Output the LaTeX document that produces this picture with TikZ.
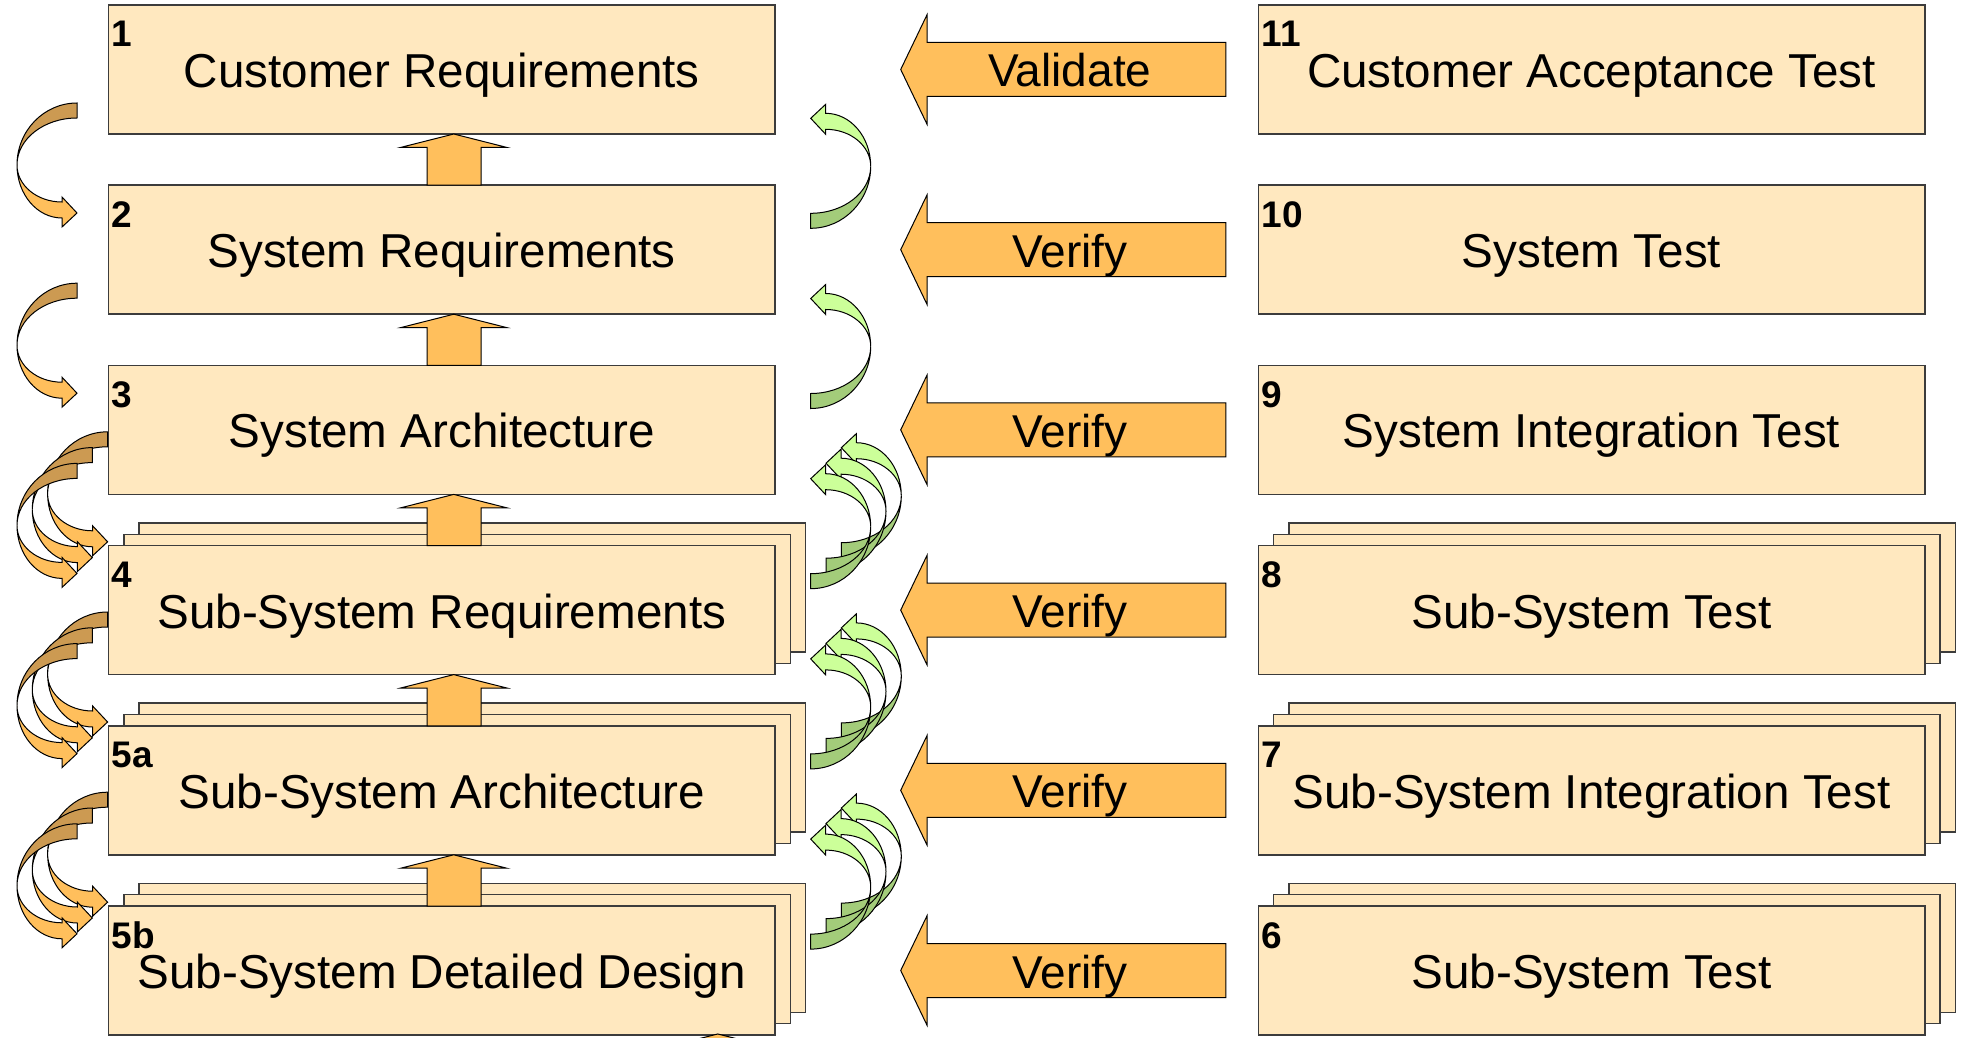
\documentclass[tikz,border=0pt]{standalone}
\usepackage{fontspec}
\setmainfont{Liberation Sans}
\usetikzlibrary{calc}

\definecolor{boxfill}{HTML}{FFE8BF}
\definecolor{boxline}{HTML}{3C3C3C}
\definecolor{orangefill}{HTML}{FFBF5C}
\definecolor{orangedark}{HTML}{CC9A52}
\definecolor{greenlight}{HTML}{CCFF99}
\definecolor{greendark}{HTML}{A3CC7A}

\tikzset{
  % twisted ribbon arrow: tail band (#1) then head band (#2); origin = top of the tail end
  pics/bentarrow/.style 2 args={code={
    \draw[line width=0.5pt, fill=#1]
      (0,0) .. controls (-33.1,0) and (-60,27.8) .. (-60,62)
            .. controls (-60,36) and (-33.1,15) .. (0,15) -- cycle;
    \draw[line width=0.5pt, fill=#2]
      (-60,62) .. controls (-60,91.3) and (-39.9,115) .. (-15,115)
      -- (-15,124) -- (0,110) -- (-15,94) -- (-15,99)
      .. controls (-39.9,99) and (-60,82.4) .. (-60,62) -- cycle;
  }}
}

\begin{document}
\begin{tikzpicture}[x=0.5pt,y=-0.5pt,
  box/.style={draw=boxline, line width=0.75pt, fill=boxfill,
    minimum width=333.25pt, minimum height=64.5pt, inner sep=0pt, outer sep=0pt},
  boxback/.style={draw=boxline, line width=0.75pt, fill=boxfill},
  blk/.style={draw=black, line width=0.5pt, fill=orangefill, line join=miter},
  lbl/.style={inner sep=0pt, anchor=base, font=\fontsize{23.8pt}{28pt}\selectfont},
  vlbl/.style={inner sep=0pt, anchor=base, font=\fontsize{23pt}{28pt}\selectfont},
  num/.style={inner sep=0pt, anchor=base west, font=\bfseries\fontsize{18.5pt}{21pt}\selectfont}]

\clip (0,0) rectangle (1966,1038);

% stacked copies behind the multi-instance boxes
\foreach \cx/\cy in {441.75/610.1, 441.75/790.3, 441.75/970.5,
                     1591.5/610.1, 1591.5/790.3, 1591.5/970.5} {
  \foreach \k in {2,1} {
    \draw[boxback] (\cx+15.3*\k-333.25, \cy-11.3*\k-64.5) rectangle ++(666.5,129);
  }
}

% process boxes
\foreach \n/\x/\y/\num/\txt in {
    l1/441.75/69.5/1/Customer Requirements,
    l2/441.75/249.7/2/System Requirements,
    l3/441.75/429.9/3/System Architecture,
    l4/441.75/610.1/4/Sub-System Requirements,
    l5a/441.75/790.3/5a/Sub-System Architecture,
    l5b/441.75/970.5/5b/Sub-System Detailed Design,
    r11/1591.5/69.5/11/Customer Acceptance Test,
    r10/1591.5/249.7/10/System Test,
    r9/1591.5/429.9/9/System Integration Test,
    r8/1591.5/610.1/8/Sub-System Test,
    r7/1591.5/790.3/7/Sub-System Integration Test,
    r6/1591.5/970.5/6/Sub-System Test} {
  \node[box] (\n) at (\x,\y) {};
  \node[num] (\n-num) at ($(\n.north west)+(3,42)$) {\num};
  \node[lbl] (\n-txt) at ($(\n.center)+(0,18)$) {\txt};
}

% upward block arrows between the design levels
\foreach \a/\b in {l1/l2, l2/l3, l3/l4, l4/l5a, l5a/l5b} {
  \draw[blk] ($(\b.north)+(-14.75,0)$) -- ($(\a.south)+(-14.75,13.4)$)
    -- ($(\a.south)+(-41,13.4)$) -- ($(\a.south)+(12,0)$)
    -- ($(\a.south)+(65,13.4)$) -- ($(\a.south)+(39.25,13.4)$)
    -- ($(\b.north)+(39.25,0)$) -- cycle;
}
\coordinate (lowtip) at ($(l5b.south)+(276,-1)$);
\draw[blk] (lowtip) -- ++(-24,6) -- ++(48,0) -- cycle;

% validate / verify arrows from the test side to the design side
\foreach \l/\r/\w in {l1/r11/Validate, l2/r10/Verify, l3/r9/Verify,
                      l4/r8/Verify, l5a/r7/Verify, l5b/r6/Verify} {
  \draw[blk] ($(\l.east)+(125.7,0)$) -- ++(26.3,-54.7) -- ++(0,27.7)
    -- ($(\r.west)+(-32.3,-27)$) -- ($(\r.west)+(-32.3,27)$)
    -- ($(\l.east)+(152,27)$) -- ++(0,27.7) -- cycle;
  \node[vlbl] (\l-\r) at ($(\l.east)+(295,17.5)$) {\w};
}

% downward refinement arrows on the left
\foreach \n in {l1,l2} {
  \pic at ($(\n.south west)+(-31.5,-31)$) {bentarrow={orangedark}{orangefill}};
}
\foreach \n in {l3,l4,l5a} {
  \foreach \k in {2,1,0} {
    \pic at ($(\n.south west)+(-31.5+15.3*\k,-31-15.8*\k)$) {bentarrow={orangedark}{orangefill}};
  }
}

% upward feedback arrows on the right of the design column
\foreach \n in {l1,l2} {
  \pic[rotate=180] at ($(\n.south east)+(35.7,94.3)$) {bentarrow={greendark}{greenlight}};
}
\foreach \n in {l3,l4,l5a} {
  \foreach \k in {2,1,0} {
    \pic[rotate=180] at ($(\n.south east)+(35.7+15.3*\k,94.3-15.5*\k)$) {bentarrow={greendark}{greenlight}};
  }
}

\end{tikzpicture}
\end{document}
